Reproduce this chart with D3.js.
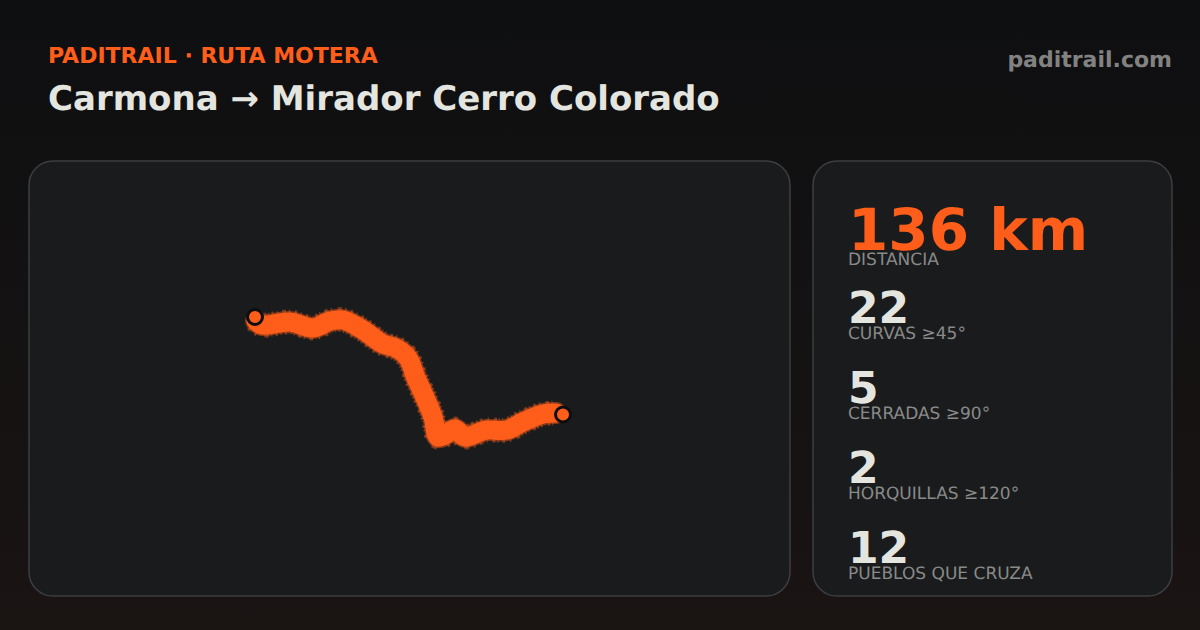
<!DOCTYPE html>
<html>
<head>
<meta charset="utf-8">
<script src="https://cdn.jsdelivr.net/npm/d3@7"></script>
<style>
  html, body { margin: 0; padding: 0; background: #0d0e10; }
  svg { display: block; font-family: "DejaVu Sans", sans-serif; text-rendering: geometricPrecision; }
</style>
</head>
<body>
<div id="chart"></div>
<script>
// route, in map units of the panel
const routeX = [226, 227, 233, 261, 284, 301, 314, 334, 354, 367, 379, 387, 394, 404, 409, 416, 426, 436, 451, 458, 478, 494, 514, 527, 534];
const routeY = [156, 160, 164, 161, 167, 160, 159, 169, 183, 187, 197, 217, 232, 256, 276, 274, 268, 276, 271, 269, 269, 261, 253, 252, 253.5];

const statValues = ["136 km", "22", "5", "2", "12"];
const statLabels = ["DISTANCIA", "CURVAS ≥45°", "CERRADAS ≥90°", "HORQUILLAS ≥120°", "PUEBLOS QUE CRUZA"];

const eyebrow = "PADITRAIL · RUTA MOTERA";
const title = "Carmona → Mirador Cerro Colorado";
const site = "paditrail.com";

const width = 1200, height = 630;
const orange = "#ff5e1a", ink = "#e5e5e0", muted = "#8a8a88";

const svg = d3.select("#chart").append("svg")
    .attr("width", width)
    .attr("height", height);

// background
const defs = svg.append("defs");
const bg = defs.append("linearGradient")
    .attr("id", "bg")
    .attr("x1", 0).attr("y1", 0)
    .attr("x2", 0).attr("y2", 1);
bg.append("stop").attr("offset", "0%").attr("stop-color", "#0e0f11");
bg.append("stop").attr("offset", "100%").attr("stop-color", "#1a1413");
svg.append("rect").attr("width", width).attr("height", height).attr("fill", "url(#bg)");

// header
svg.append("text").text(eyebrow)
    .attr("x", 48).attr("y", 63)
    .attr("font-size", 22).attr("font-weight", 700)
    .attr("fill", orange);
svg.append("text").text(title)
    .attr("x", 48).attr("y", 110)
    .attr("font-size", 34).attr("font-weight", 700)
    .attr("fill", ink);
svg.append("text").text(site)
    .attr("x", 1172).attr("y", 67)
    .attr("text-anchor", "end")
    .attr("font-size", 22).attr("font-weight", 700)
    .attr("fill", "#828280");

// panels
const panels = [[29, 161, 761, 435], [813, 161, 359, 435]];
svg.selectAll("rect.panel")
    .data(panels)
    .join("rect")
    .attr("class", "panel")
    .attr("x", d => d[0]).attr("y", d => d[1])
    .attr("width", d => d[2]).attr("height", d => d[3])
    .attr("rx", 24)
    .attr("fill", "#191b1d")
    .attr("stroke", "#3c3e42")
    .attr("stroke-width", 1.5);

// map
const x = d3.scaleLinear().domain([0, 761]).range([29, 790]);
const y = d3.scaleLinear().domain([0, 435]).range([161, 596]);
const route = routeX.map((d, i) => [d, routeY[i]]);
const line = d3.line()
    .x(d => x(d[0]))
    .y(d => y(d[1]))
    .curve(d3.curveCatmullRom.alpha(0.5));
const band = line(route.slice(1, -1));

const map = svg.append("g").attr("fill", "none").attr("stroke-linecap", "round").attr("stroke-linejoin", "round");
// rough edge of the stroke
map.append("path").attr("d", band)
    .attr("stroke", orange).attr("stroke-opacity", 0.45)
    .attr("stroke-width", 22);
map.append("path").attr("d", band)
    .attr("stroke", orange).attr("stroke-opacity", 0.4)
    .attr("stroke-width", 25)
    .attr("stroke-linecap", "butt")
    .attr("stroke-dasharray", "2 3 1 4 3 2 1 3");
map.append("path").attr("d", band)
    .attr("stroke", orange).attr("stroke-width", 19);

// start and end markers
svg.selectAll("circle.stop")
    .data([route[0], route[route.length - 1]])
    .join("circle")
    .attr("class", "stop")
    .attr("cx", d => x(d[0]))
    .attr("cy", d => y(d[1]))
    .attr("r", 7.5)
    .attr("fill", orange)
    .attr("stroke", "#0d0d0f")
    .attr("stroke-width", 3);

// stats
const valueBase = [249.5, 323, 402.5, 482.5, 562.5];
const stats = svg.append("g").selectAll("g")
    .data(statValues)
    .join("g")
    .attr("transform", (d, i) => `translate(848,${valueBase[i]})`);

stats.append("text")
    .text(d => d)
    .attr("font-size", (d, i) => i === 0 ? 58 : 44)
    .attr("font-weight", 700)
    .attr("fill", (d, i) => i === 0 ? orange : ink);

stats.append("text")
    .text((d, i) => statLabels[i])
    .attr("y", (d, i) => i === 0 ? 15.5 : 16)
    .attr("font-size", 17)
    .attr("fill", muted);
</script>
</body>
</html>
